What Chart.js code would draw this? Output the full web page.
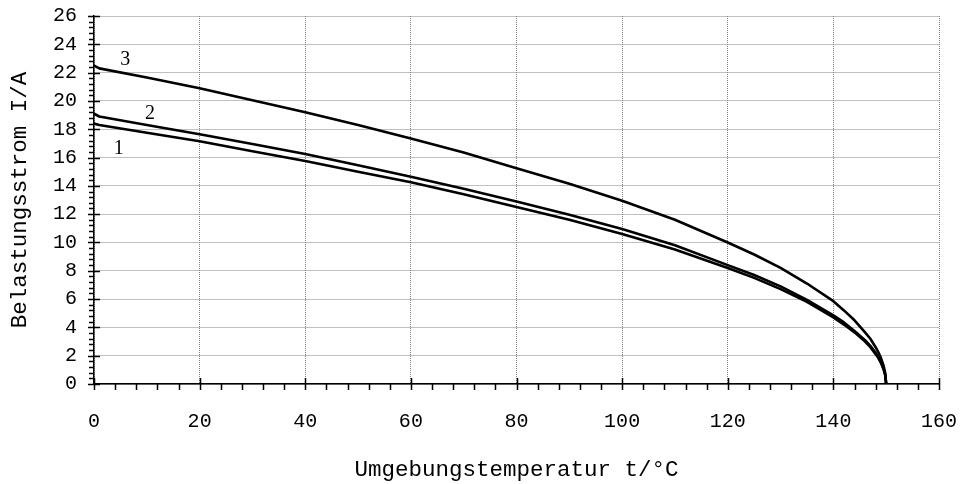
<!DOCTYPE html>
<html>
<head>
<meta charset="utf-8">
<script src="https://cdn.jsdelivr.net/npm/chart.js@4.4.1/dist/chart.umd.min.js"></script>
<style>
  html, body { margin: 0; padding: 0; background: #fff; }
  #wrap { width: 963px; height: 484px; }
</style>
</head>
<body>
<div id="wrap"><canvas id="chart" width="963" height="484"></canvas></div>
<script>
// Umgebungstemperatur t in °C
const temps = [0, 1, 10, 20, 30, 40, 50, 60, 70, 80, 90, 100, 110, 120, 125, 130, 135, 140, 142, 144, 146, 147, 148, 148.5, 149, 149.5, 149.8, 150];

// Belastungsstrom I in A, Kurven 1..3
const current1 = [18.4, 18.3, 17.75, 17.15, 16.45, 15.75, 15.0, 14.25, 13.4, 12.5, 11.6, 10.6, 9.5, 8.2, 7.5, 6.7, 5.8, 4.7, 4.2, 3.65, 3.0, 2.6, 2.1, 1.85, 1.5, 1.05, 0.65, 0];
const current2 = [19.1, 18.9, 18.3, 17.65, 16.95, 16.25, 15.45, 14.65, 13.8, 12.9, 11.95, 10.95, 9.8, 8.4, 7.7, 6.9, 5.95, 4.85, 4.35, 3.75, 3.1, 2.7, 2.2, 1.9, 1.55, 1.1, 0.7, 0];
const current3 = [22.5, 22.3, 21.65, 20.9, 20.05, 19.2, 18.3, 17.35, 16.35, 15.25, 14.15, 12.95, 11.6, 10.0, 9.15, 8.2, 7.1, 5.85, 5.2, 4.5, 3.65, 3.2, 2.6, 2.25, 1.85, 1.3, 0.8, 0];

const curveNames = ['1', '2', '3'];

const xTicks = [0, 20, 40, 60, 80, 100, 120, 140, 160];
const yTicks = [0, 2, 4, 6, 8, 10, 12, 14, 16, 18, 20, 22, 24, 26];

const monoFont = '"Liberation Mono", "Courier New", monospace';

function toPoints(ys) {
  return temps.map((t, i) => ({ x: t, y: ys[i] }));
}

// where the curve numbers sit, in axis units
const labelSpots = [
  { x: 4.7, y: 16.6 },
  { x: 10.6, y: 19.1 },
  { x: 5.9, y: 22.9 }
];

// major ticks cross the axis, minor ticks point outward
const axisTicks = {
  id: 'axisTicks',
  afterDraw(chart) {
    const ctx = chart.ctx;
    const xs = chart.scales.x;
    const ys = chart.scales.y;
    const x0 = xs.getPixelForValue(0);
    const y0 = ys.getPixelForValue(0);
    ctx.save();
    ctx.strokeStyle = '#000';
    ctx.lineWidth = 1.5;
    ctx.beginPath();
    for (let k = 0; k <= 65; k++) {
      const v = k * 0.4;
      const py = Math.round(ys.getPixelForValue(v)) + 0.5;
      if (k % 5 === 0) {
        ctx.moveTo(x0 - 6, py); ctx.lineTo(x0 + 6, py);
      } else {
        ctx.moveTo(x0 - 5, py); ctx.lineTo(x0, py);
      }
    }
    for (let k = 0; k <= 40; k++) {
      const v = k * 4;
      const px = Math.round(xs.getPixelForValue(v)) + 0.5;
      if (k % 5 === 0) {
        ctx.moveTo(px, y0 - 6); ctx.lineTo(px, y0 + 6);
      } else {
        ctx.moveTo(px, y0); ctx.lineTo(px, y0 + 6);
      }
    }
    ctx.stroke();

    // curve numbers
    ctx.fillStyle = '#000';
    ctx.font = '20px "Liberation Serif", "Times New Roman", serif';
    ctx.textAlign = 'center';
    ctx.textBaseline = 'middle';
    labelSpots.forEach((s, i) => {
      ctx.fillText(curveNames[i], xs.getPixelForValue(s.x), ys.getPixelForValue(s.y));
    });
    ctx.restore();
  }
};

const lineStyle = {
  borderColor: '#000',
  borderWidth: 2.6,
  pointRadius: 0,
  fill: false,
  tension: 0,
  borderJoinStyle: 'round'
};

const ctx = document.getElementById('chart').getContext('2d');
new Chart(ctx, {
  type: 'line',
  data: {
    datasets: [
      Object.assign({ label: curveNames[0], data: toPoints(current1) }, lineStyle),
      Object.assign({ label: curveNames[1], data: toPoints(current2) }, lineStyle),
      Object.assign({ label: curveNames[2], data: toPoints(current3) }, lineStyle)
    ]
  },
  options: {
    responsive: false,
    animation: false,
    layout: { padding: { top: 16, right: 24, bottom: 0, left: 0 } },
    plugins: {
      legend: { display: false },
      tooltip: { enabled: false }
    },
    scales: {
      x: {
        type: 'linear',
        min: 0,
        max: 160,
        afterFit(scale) {
          scale.height = 100;
          scale.paddingLeft = 0;
          scale.paddingRight = 0;
        },
        afterBuildTicks(scale) { scale.ticks = xTicks.map(v => ({ value: v })); },
        grid: { color: '#808080', lineWidth: 1, drawTicks: false },
        border: { display: true, color: '#000', width: 1.5, dash: [1, 1] },
        ticks: {
          color: '#000',
          font: { family: monoFont, size: 20 },
          padding: 26,
          maxRotation: 0
        },
        title: {
          display: true,
          text: 'Umgebungstemperatur t/°C',
          color: '#000',
          font: { family: monoFont, size: 22.5 },
          padding: { top: 0, bottom: 0 }
        }
      },
      y: {
        type: 'linear',
        min: 0,
        max: 26,
        afterFit(scale) {
          scale.width = 94;
          scale.paddingTop = 0;
          scale.paddingBottom = 0;
        },
        afterBuildTicks(scale) { scale.ticks = yTicks.map(v => ({ value: v })); },
        grid: { color: '#808080', lineWidth: 1, drawTicks: false },
        border: { display: true, color: '#000', width: 1.5, dash: [1, 1] },
        ticks: {
          color: '#000',
          font: { family: monoFont, size: 20 },
          padding: 17
        },
        title: {
          display: true,
          text: 'Belastungsstrom I/A',
          color: '#000',
          font: { family: monoFont, size: 22.5 },
          padding: { top: 7, bottom: 0 }
        }
      }
    }
  },
  plugins: [axisTicks]
});
</script>
</body>
</html>
